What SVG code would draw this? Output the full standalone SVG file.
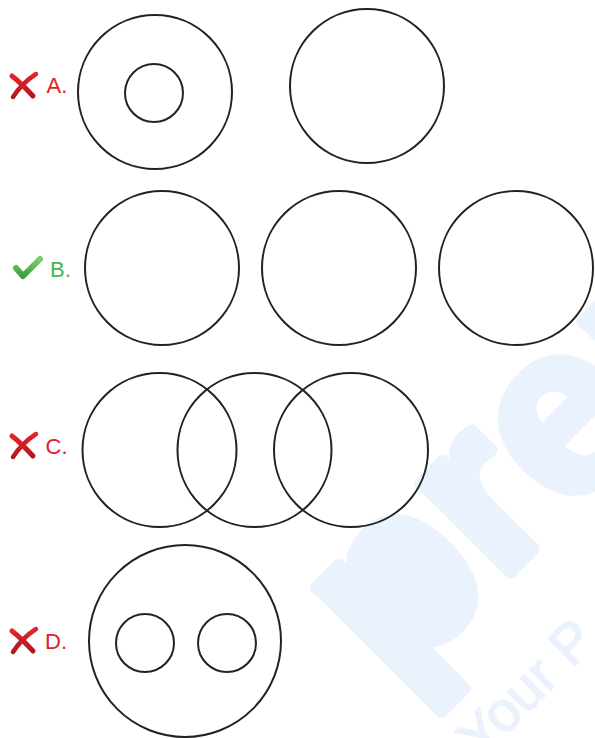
<svg xmlns="http://www.w3.org/2000/svg" width="595" height="738" viewBox="0 0 595 738">
  <style>
    .ring { fill: none; stroke: #222222; stroke-width: 2; }
    .lbl-wrong { font-family: "Liberation Sans", Arial, sans-serif; font-size: 22px; fill: #e41d24; }
    .lbl-right { font-family: "Liberation Sans", Arial, sans-serif; font-size: 22px; fill: #45b845; }
    .wm { font-family: "Liberation Sans", Arial, sans-serif; fill: #eaf2fd; stroke: #eaf2fd; stroke-linejoin: round; }
  </style>
  <defs>
    <linearGradient id="redgrad" x1="0" y1="0" x2="0" y2="1">
      <stop offset="0" stop-color="#e2262c"/>
      <stop offset="1" stop-color="#b5161c"/>
    </linearGradient>
    <linearGradient id="greengrad" x1="0" y1="0" x2="0" y2="1">
      <stop offset="0" stop-color="#7ccc6a"/>
      <stop offset="1" stop-color="#3e9e3e"/>
    </linearGradient>
    <symbol id="cross" viewBox="0 0 30 27" width="30" height="27" overflow="visible">
      <path d="M4,4 Q13,11 25,24" fill="none" stroke="url(#redgrad)" stroke-width="5" stroke-linecap="round"/>
      <path d="M28,2 Q14,11 5,25" fill="none" stroke="url(#redgrad)" stroke-width="4.5" stroke-linecap="round"/>
    </symbol>
    <symbol id="check" viewBox="0 0 32 28" width="32" height="28" overflow="visible">
      <path d="M5,13 L12,21 L29,4" fill="none" stroke="url(#greengrad)" stroke-width="6" stroke-linecap="round" stroke-linejoin="round"/>
    </symbol>
  </defs>

  <g id="watermark">
    <text class="wm" font-size="240" font-weight="bold" letter-spacing="1" stroke-width="12" transform="translate(394.5,688.5) rotate(-45)">prep</text>
    <circle cx="406" cy="589" r="40" fill="#eaf2fd"/>
    <text class="wm" font-size="56" stroke-width="1.5" transform="translate(481,760) rotate(-45)">Your P</text>
  </g>

  <g id="option-a">
    <use href="#cross" x="8" y="72"/>
    <text class="lbl-wrong" x="46.5" y="93">A.</text>
    <circle class="ring" cx="155" cy="92" r="77"/>
    <circle class="ring" cx="154" cy="93" r="29"/>
    <circle class="ring" cx="367" cy="86" r="77"/>
  </g>

  <g id="option-b">
    <use href="#check" x="11" y="255"/>
    <text class="lbl-right" x="50" y="277">B.</text>
    <circle class="ring" cx="162" cy="268" r="77"/>
    <circle class="ring" cx="339" cy="268" r="77"/>
    <circle class="ring" cx="516" cy="268" r="77"/>
  </g>

  <g id="option-c">
    <use href="#cross" x="8" y="432"/>
    <text class="lbl-wrong" x="45.5" y="454">C.</text>
    <circle class="ring" cx="159.5" cy="450" r="77"/>
    <circle class="ring" cx="254.5" cy="450" r="77"/>
    <circle class="ring" cx="351" cy="450" r="77"/>
  </g>

  <g id="option-d">
    <use href="#cross" x="8" y="627"/>
    <text class="lbl-wrong" x="45" y="649">D.</text>
    <circle class="ring" cx="185" cy="641" r="96"/>
    <circle class="ring" cx="145" cy="643" r="29"/>
    <circle class="ring" cx="227" cy="643" r="29"/>
  </g>

  <g id="connectors"/>
</svg>
